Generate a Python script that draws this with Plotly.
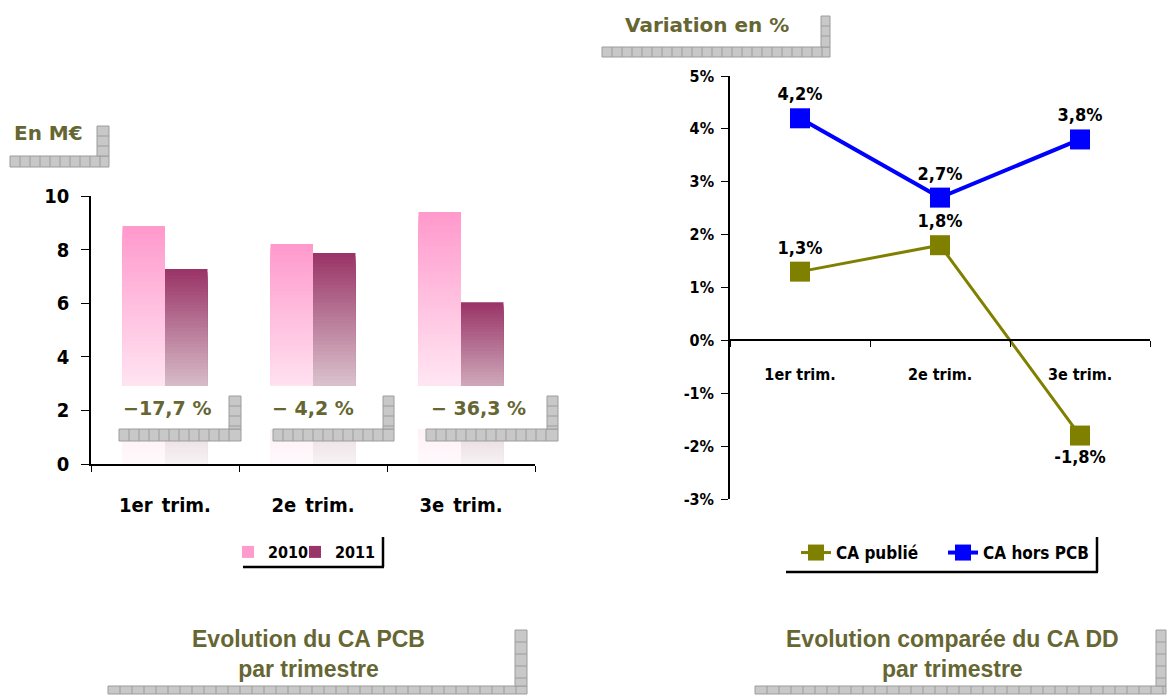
import plotly.graph_objects as go

W, H = 1169, 696

# ---------------- data ----------------
categories = ["1er trim.", "2e trim.", "3e trim."]
ca_2010 = [8.88, 8.21, 9.40]
ca_2011 = [7.28, 7.87, 6.04]
change_labels = ["\u221217,7 %", "\u2212 4,2 %", "\u2212 36,3 %"]
left_yticks = [0, 2, 4, 6, 8, 10]

ca_publie = [1.3, 1.8, -1.8]
ca_hors_pcb = [4.2, 2.7, 3.8]
right_yticks = [-3, -2, -1, 0, 1, 2, 3, 4, 5]

# ---------------- style ----------------
COND = "DejaVu Sans Condensed, DejaVu Sans, sans-serif"
HUM = "DejaVu Sans, Verdana, sans-serif"
ARIAL = "Liberation Sans, Arial, sans-serif"
OLIVE_TXT = "#666633"
scale_2010 = [(0.0, (255, 250, 252)), (0.35, (255, 226, 240)), (1.0, (255, 153, 204))]
scale_2011 = [(0.0, (247, 242, 244)), (0.35, (220, 199, 208)), (1.0, (153, 51, 102))]


def interp(scale, t):
    for (t0, c0), (t1, c1) in zip(scale[:-1], scale[1:]):
        if t <= t1:
            f = (t - t0) / (t1 - t0)
            c = [round(a + (b - a) * f) for a, b in zip(c0, c1)]
            return "rgb(%d,%d,%d)" % tuple(c)
    return "rgb(%d,%d,%d)" % scale[-1][1]


def px(x):
    return x / W


def py(y):
    return 1 - y / H


fig = go.Figure()

# gradient bars: overlapping bars, tallest first
N = 60
for name, vals, scale, leg in (("2010", ca_2010, scale_2010, "legend"),
                               ("2011", ca_2011, scale_2011, "legend3")):
    for k in range(N):
        frac = (N - k) / N
        fig.add_trace(go.Bar(
            x=categories, y=[v * frac for v in vals], name=name,
            offsetgroup=name, legendgroup=name, showlegend=(k == 0),
            marker=dict(color=interp(scale, (N - k - 0.5) / N), line=dict(width=0)),
            hoverinfo="skip", xaxis="x", yaxis="y", legend=leg,
        ))

lab_font = dict(family=COND, size=18, color="black", weight="bold")
fig.add_trace(go.Scatter(
    x=categories, y=ca_publie, name="CA publi\u00e9", xaxis="x2", yaxis="y2",
    mode="lines+markers+text", line=dict(color="#808000", width=3),
    marker=dict(symbol="square", size=20, color="#808000"),
    texttemplate="%{y:.1f}%", textposition=["top center", "top center", "bottom center"],
    textfont=lab_font, cliponaxis=False, legend="legend2", hoverinfo="skip",
))
fig.add_trace(go.Scatter(
    x=categories, y=ca_hors_pcb, name="CA hors PCB", xaxis="x2", yaxis="y2",
    mode="lines+markers+text", line=dict(color="#0000FF", width=4),
    marker=dict(symbol="square", size=20, color="#0000FF"),
    texttemplate="%{y:.1f}%", textposition="top center",
    textfont=lab_font, cliponaxis=False, legend="legend2", hoverinfo="skip",
))

shapes = []


def hatch(x0, y0, x1, y1, step=10):
    shapes.append(dict(type="rect", xref="paper", yref="paper", x0=px(x0), x1=px(x1),
                       y0=py(y1), y1=py(y0), fillcolor="#c8c8c8",
                       line=dict(color="#9c9c9c", width=1), layer="above"))
    if (x1 - x0) >= (y1 - y0):
        x = x0 + step
        while x < x1 - 2:
            shapes.append(dict(type="line", xref="paper", yref="paper", x0=px(x), x1=px(x),
                               y0=py(y1), y1=py(y0), line=dict(color="#9c9c9c", width=1), layer="above"))
            x += step
    else:
        y = y0 + step
        while y < y1 - 2:
            shapes.append(dict(type="line", xref="paper", yref="paper", x0=px(x0), x1=px(x1),
                               y0=py(y), y1=py(y), line=dict(color="#9c9c9c", width=1), layer="above"))
            y += step


def white(x0, y0, x1, y1):
    shapes.append(dict(type="rect", xref="paper", yref="paper", x0=px(x0), x1=px(x1),
                       y0=py(y1), y1=py(y0), fillcolor="white", line=dict(width=0), layer="above"))


def line(x0, y0, x1, y1, w=2.5):
    shapes.append(dict(type="line", xref="paper", yref="paper", x0=px(x0), x1=px(x1),
                       y0=py(y0), y1=py(y1), line=dict(color="black", width=w), layer="above"))


# white label boxes over the bars
white(116, 386, 229, 429)
white(265, 386, 383, 429)
white(411, 386, 547, 429)
# hatched "shadow" decorations
hatch(10, 156, 109, 167)
hatch(97, 126, 109, 156)
hatch(602, 47, 830, 57)
hatch(821, 16, 830, 47)
hatch(119, 429, 241, 441)
hatch(229, 396, 241, 429)
hatch(273, 429, 394, 441)
hatch(383, 396, 394, 429)
hatch(426, 429, 558, 441)
hatch(547, 396, 558, 429)
hatch(108, 686, 527, 694, 12)
hatch(515, 630, 527, 686, 12)
hatch(755, 686, 1166, 694, 12)
hatch(1156, 630, 1166, 686, 12)
# legend frames
line(243, 567, 384, 567)
line(383, 537, 383, 567)
line(786, 572, 1098, 572)
line(1097, 537, 1097, 572)

annotations = [
    dict(text="En M\u20ac", x=px(12), y=py(133), xanchor="left", yanchor="middle",
         font=dict(family=HUM, size=20, color=OLIVE_TXT, weight="bold")),
    dict(text="Variation en %", x=px(707), y=py(25), xanchor="center", yanchor="middle",
         font=dict(family=HUM, size=20, color=OLIVE_TXT, weight="bold")),
    dict(text="Evolution du CA PCB<br>par trimestre", x=px(308), y=py(654),
         xanchor="center", yanchor="middle",
         font=dict(family=ARIAL, size=23, color=OLIVE_TXT, weight="bold")),
    dict(text="Evolution compar\u00e9e du CA DD<br>par trimestre", x=px(952), y=py(654),
         xanchor="center", yanchor="middle",
         font=dict(family=ARIAL, size=23, color=OLIVE_TXT, weight="bold")),
]
for a in annotations:
    a.update(xref="paper", yref="paper", showarrow=False)
for i, (cat, lab) in enumerate(zip(categories, change_labels)):
    annotations.append(dict(text=lab, xref="x", x=cat, yref="paper", y=py(408),
                            xshift=(2, 0, 17)[i], showarrow=False, xanchor="center", yanchor="middle",
                            font=dict(family=HUM, size=19, color=OLIVE_TXT, weight="bold")))

y2_dom = [1 - 499 / H, 1 - 76 / H]
zero_pos = y2_dom[0] + (0 - (-3)) / 8 * (y2_dom[1] - y2_dom[0])

axis_common = dict(showgrid=False, zeroline=False, showline=True, linecolor="black",
                   ticks="outside", tickcolor="black", automargin=False)
leg_common = dict(orientation="h", xanchor="left", yanchor="middle", bgcolor="rgba(0,0,0,0)",
                  itemclick=False, itemdoubleclick=False)

fig.update_layout(
    width=W, height=H, margin=dict(l=0, r=0, t=0, b=0, autoexpand=False),
    paper_bgcolor="white", plot_bgcolor="white",
    separators=", ",
    barmode="group", bargap=0.426, bargroupgap=0,
    xaxis=dict(domain=[px(91), px(535)], anchor="y", range=[-0.5, 2.5], tickson="boundaries",
               ticklen=6, linewidth=1.5, ticklabelstandoff=22,
               tickmode="array", tickvals=categories,
               ticktext=[c.replace(" ", "\u2002") for c in categories],
               tickfont=dict(family=COND, size=20, color="black", weight="bold"), **axis_common),
    yaxis=dict(domain=[1 - 464 / H, 1 - 196 / H], anchor="x", range=[0, 10], tickvals=left_yticks,
               ticklen=8, linewidth=1.5, ticklabelstandoff=8,
               tickfont=dict(family=COND, size=20, color="black", weight="bold"), **axis_common),
    xaxis2=dict(domain=[px(730), px(1150)], anchor="free", position=zero_pos, range=[-0.5, 2.5],
                tickson="boundaries", ticklen=6, linewidth=1.5, ticklabelstandoff=20,
                tickfont=dict(family=COND, size=16, color="black", weight="bold"), **axis_common),
    yaxis2=dict(domain=y2_dom, anchor="x2", range=[-3, 5], tickmode="array", tickvals=right_yticks,
                ticktext=["%d%%" % v for v in right_yticks],
                ticklen=7, linewidth=1.5, ticklabelstandoff=4,
                tickfont=dict(family=COND, size=16, color="black", weight="bold"), **axis_common),
    legend=dict(x=px(228), y=py(552), font=dict(family=COND, size=16, color="black", weight="bold"),
                **leg_common),
    legend3=dict(x=px(295), y=py(552), font=dict(family=COND, size=16, color="black", weight="bold"),
                 **leg_common),
    legend2=dict(x=px(796), y=py(553), entrywidth=102, entrywidthmode="pixels",
                 font=dict(family=COND, size=17, color="black", weight="bold"), **leg_common),
    shapes=shapes, annotations=annotations, showlegend=True,
)

fig.write_html("out.html", config={"displayModeBar": False},
               post_script="document.body.style.margin='0';document.body.style.overflow='hidden';")
